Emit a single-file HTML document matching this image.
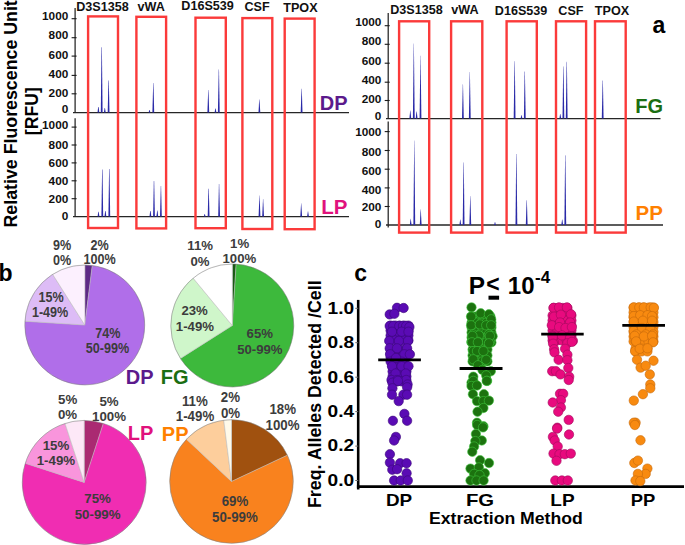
<!DOCTYPE html>
<html><head><meta charset="utf-8"><style>
html,body{margin:0;padding:0;background:#fff;}
svg{display:block;}
</style></head><body>
<svg width="685" height="545" viewBox="0 0 685 545">
<rect width="685" height="545" fill="#fff"/>
<text transform="translate(17.3,227.5) rotate(-90)" font-family="Liberation Sans, sans-serif" font-weight="bold" font-size="17.8" fill="#000">Relative Fluorescence Unit</text>
<text transform="translate(37.6,111.2) rotate(-90)" font-family="Liberation Sans, sans-serif" font-weight="bold" font-size="17.6" fill="#000" text-anchor="middle">[RFU]</text>
<line x1="75.1" y1="8" x2="75.1" y2="112.5" stroke="#1a1a1a" stroke-width="1.2"/>
<text x="68.3" y="113.2" font-family="Liberation Sans, sans-serif" font-weight="bold" font-size="11.8" fill="#111" text-anchor="end" >0</text>
<line x1="71.6" y1="93.8" x2="76.6" y2="93.8" stroke="#1a1a1a" stroke-width="1.1"/>
<text x="68.3" y="97.3" font-family="Liberation Sans, sans-serif" font-weight="bold" font-size="11.8" fill="#111" text-anchor="end" >200</text>
<line x1="71.6" y1="75.4" x2="76.6" y2="75.4" stroke="#1a1a1a" stroke-width="1.1"/>
<text x="68.3" y="77.7" font-family="Liberation Sans, sans-serif" font-weight="bold" font-size="11.8" fill="#111" text-anchor="end" >400</text>
<line x1="71.6" y1="56.1" x2="76.6" y2="56.1" stroke="#1a1a1a" stroke-width="1.1"/>
<text x="68.3" y="58.7" font-family="Liberation Sans, sans-serif" font-weight="bold" font-size="11.8" fill="#111" text-anchor="end" >600</text>
<line x1="71.6" y1="37.7" x2="76.6" y2="37.7" stroke="#1a1a1a" stroke-width="1.1"/>
<text x="68.3" y="39.4" font-family="Liberation Sans, sans-serif" font-weight="bold" font-size="11.8" fill="#111" text-anchor="end" >800</text>
<line x1="71.6" y1="18.7" x2="76.6" y2="18.7" stroke="#1a1a1a" stroke-width="1.1"/>
<text x="68.3" y="20.1" font-family="Liberation Sans, sans-serif" font-weight="bold" font-size="11.8" fill="#111" text-anchor="end" >1000</text>
<line x1="75.1" y1="118.3" x2="75.1" y2="217" stroke="#1a1a1a" stroke-width="1.2"/>
<text x="68.3" y="219.7" font-family="Liberation Sans, sans-serif" font-weight="bold" font-size="11.8" fill="#111" text-anchor="end" >0</text>
<line x1="71.6" y1="198.7" x2="76.6" y2="198.7" stroke="#1a1a1a" stroke-width="1.1"/>
<text x="68.3" y="203.1" font-family="Liberation Sans, sans-serif" font-weight="bold" font-size="11.8" fill="#111" text-anchor="end" >200</text>
<line x1="71.6" y1="180.8" x2="76.6" y2="180.8" stroke="#1a1a1a" stroke-width="1.1"/>
<text x="68.3" y="185.2" font-family="Liberation Sans, sans-serif" font-weight="bold" font-size="11.8" fill="#111" text-anchor="end" >400</text>
<line x1="71.6" y1="162.9" x2="76.6" y2="162.9" stroke="#1a1a1a" stroke-width="1.1"/>
<text x="68.3" y="167.2" font-family="Liberation Sans, sans-serif" font-weight="bold" font-size="11.8" fill="#111" text-anchor="end" >600</text>
<line x1="71.6" y1="145.0" x2="76.6" y2="145.0" stroke="#1a1a1a" stroke-width="1.1"/>
<text x="68.3" y="148.9" font-family="Liberation Sans, sans-serif" font-weight="bold" font-size="11.8" fill="#111" text-anchor="end" >800</text>
<line x1="71.6" y1="127.1" x2="76.6" y2="127.1" stroke="#1a1a1a" stroke-width="1.1"/>
<text x="68.3" y="129.3" font-family="Liberation Sans, sans-serif" font-weight="bold" font-size="11.8" fill="#111" text-anchor="end" >1000</text>
<line x1="73" y1="112.6" x2="349" y2="112.6" stroke="#262626" stroke-width="1.4"/>
<line x1="73" y1="216.6" x2="349" y2="216.6" stroke="#262626" stroke-width="1.4"/>
<polygon points="97.5,112.6 98.2,107.0 98.6,107.0 99.3,112.6" fill="#2a2aa8"/>
<polygon points="100.8,112.6 101.5,47.3 101.9,47.3 102.6,112.6" fill="#2a2aa8"/>
<polygon points="103.9,112.6 104.6,108.0 105.0,108.0 105.7,112.6" fill="#2a2aa8"/>
<polygon points="107.7,112.6 108.4,80.5 108.8,80.5 109.5,112.6" fill="#2a2aa8"/>
<polygon points="148.6,112.6 149.3,110.0 149.7,110.0 150.4,112.6" fill="#2a2aa8"/>
<polygon points="152.4,112.6 153.2,83.0 153.5,83.0 154.2,112.6" fill="#2a2aa8"/>
<polygon points="207.4,112.6 208.2,90.0 208.5,90.0 209.2,112.6" fill="#2a2aa8"/>
<polygon points="214.6,112.6 215.3,108.6 215.7,108.6 216.4,112.6" fill="#2a2aa8"/>
<polygon points="217.9,112.6 218.7,69.5 219.0,69.5 219.7,112.6" fill="#2a2aa8"/>
<polygon points="258.5,112.6 259.2,99.6 259.5,99.6 260.3,112.6" fill="#2a2aa8"/>
<polygon points="300.7,112.6 301.5,88.7 301.8,88.7 302.5,112.6" fill="#2a2aa8"/>
<polygon points="97.6,216.6 98.3,211.8 98.7,211.8 99.4,216.6" fill="#2a2aa8"/>
<polygon points="101.4,216.6 102.1,169.4 102.5,169.4 103.2,216.6" fill="#2a2aa8"/>
<polygon points="104.5,216.6 105.2,211.0 105.6,211.0 106.3,216.6" fill="#2a2aa8"/>
<polygon points="108.4,216.6 109.1,168.9 109.5,168.9 110.2,216.6" fill="#2a2aa8"/>
<polygon points="149.5,216.6 150.2,211.0 150.6,211.0 151.3,216.6" fill="#2a2aa8"/>
<polygon points="153.1,216.6 153.8,181.0 154.2,181.0 154.9,216.6" fill="#2a2aa8"/>
<polygon points="156.4,216.6 157.2,210.5 157.5,210.5 158.2,216.6" fill="#2a2aa8"/>
<polygon points="160.0,216.6 160.8,186.1 161.1,186.1 161.8,216.6" fill="#2a2aa8"/>
<polygon points="203.8,216.6 204.5,214.0 204.8,214.0 205.6,216.6" fill="#2a2aa8"/>
<polygon points="207.7,216.6 208.4,188.7 208.8,188.7 209.5,216.6" fill="#2a2aa8"/>
<polygon points="218.2,216.6 218.9,184.0 219.2,184.0 220.0,216.6" fill="#2a2aa8"/>
<polygon points="258.6,216.6 259.4,195.6 259.6,195.6 260.4,216.6" fill="#2a2aa8"/>
<polygon points="262.2,216.6 263.0,199.0 263.2,199.0 264.0,216.6" fill="#2a2aa8"/>
<polygon points="300.3,216.6 301.1,203.2 301.3,203.2 302.1,216.6" fill="#2a2aa8"/>
<polygon points="307.1,216.6 307.9,211.3 308.1,211.3 308.9,216.6" fill="#2a2aa8"/>
<text x="102.5" y="11" font-family="Liberation Sans, sans-serif" font-weight="bold" font-size="12.6" fill="#111" text-anchor="middle" >D3S1358</text>
<text x="151.2" y="11" font-family="Liberation Sans, sans-serif" font-weight="bold" font-size="12.6" fill="#111" text-anchor="middle" >vWA</text>
<text x="207.6" y="10.3" font-family="Liberation Sans, sans-serif" font-weight="bold" font-size="12.6" fill="#111" text-anchor="middle" >D16S539</text>
<text x="257" y="11" font-family="Liberation Sans, sans-serif" font-weight="bold" font-size="12.6" fill="#111" text-anchor="middle" >CSF</text>
<text x="300.4" y="12" font-family="Liberation Sans, sans-serif" font-weight="bold" font-size="12.6" fill="#111" text-anchor="middle" >TPOX</text>
<text x="319.8" y="109.7" font-family="Liberation Sans, sans-serif" font-weight="bold" font-size="20" fill="#5b1a8c" text-anchor="start" >DP</text>
<text x="321.3" y="214.1" font-family="Liberation Sans, sans-serif" font-weight="bold" font-size="20.5" fill="#e0127c" text-anchor="start" >LP</text>
<line x1="388.2" y1="13" x2="388.2" y2="118.4" stroke="#1a1a1a" stroke-width="1.2"/>
<text x="381.4" y="120.3" font-family="Liberation Sans, sans-serif" font-weight="bold" font-size="11.8" fill="#111" text-anchor="end" >0</text>
<line x1="384.7" y1="100.5" x2="389.7" y2="100.5" stroke="#1a1a1a" stroke-width="1.1"/>
<text x="381.4" y="102.7" font-family="Liberation Sans, sans-serif" font-weight="bold" font-size="11.8" fill="#111" text-anchor="end" >200</text>
<line x1="384.7" y1="82.2" x2="389.7" y2="82.2" stroke="#1a1a1a" stroke-width="1.1"/>
<text x="381.4" y="83.7" font-family="Liberation Sans, sans-serif" font-weight="bold" font-size="11.8" fill="#111" text-anchor="end" >400</text>
<line x1="384.7" y1="63.2" x2="389.7" y2="63.2" stroke="#1a1a1a" stroke-width="1.1"/>
<text x="381.4" y="64.5" font-family="Liberation Sans, sans-serif" font-weight="bold" font-size="11.8" fill="#111" text-anchor="end" >600</text>
<line x1="384.7" y1="44.3" x2="389.7" y2="44.3" stroke="#1a1a1a" stroke-width="1.1"/>
<text x="381.4" y="45.0" font-family="Liberation Sans, sans-serif" font-weight="bold" font-size="11.8" fill="#111" text-anchor="end" >800</text>
<line x1="384.7" y1="25.7" x2="389.7" y2="25.7" stroke="#1a1a1a" stroke-width="1.1"/>
<text x="381.4" y="26.0" font-family="Liberation Sans, sans-serif" font-weight="bold" font-size="11.8" fill="#111" text-anchor="end" >1000</text>
<line x1="388.2" y1="121.6" x2="388.2" y2="227.6" stroke="#1a1a1a" stroke-width="1.2"/>
<text x="381.4" y="227.6" font-family="Liberation Sans, sans-serif" font-weight="bold" font-size="11.8" fill="#111" text-anchor="end" >0</text>
<line x1="384.7" y1="206.5" x2="389.7" y2="206.5" stroke="#1a1a1a" stroke-width="1.1"/>
<text x="381.4" y="210.5" font-family="Liberation Sans, sans-serif" font-weight="bold" font-size="11.8" fill="#111" text-anchor="end" >200</text>
<line x1="384.7" y1="187.9" x2="389.7" y2="187.9" stroke="#1a1a1a" stroke-width="1.1"/>
<text x="381.4" y="193.7" font-family="Liberation Sans, sans-serif" font-weight="bold" font-size="11.8" fill="#111" text-anchor="end" >400</text>
<line x1="384.7" y1="169.2" x2="389.7" y2="169.2" stroke="#1a1a1a" stroke-width="1.1"/>
<text x="381.4" y="174.6" font-family="Liberation Sans, sans-serif" font-weight="bold" font-size="11.8" fill="#111" text-anchor="end" >600</text>
<line x1="384.7" y1="150.5" x2="389.7" y2="150.5" stroke="#1a1a1a" stroke-width="1.1"/>
<text x="381.4" y="155.8" font-family="Liberation Sans, sans-serif" font-weight="bold" font-size="11.8" fill="#111" text-anchor="end" >800</text>
<line x1="384.7" y1="131.6" x2="389.7" y2="131.6" stroke="#1a1a1a" stroke-width="1.1"/>
<text x="381.4" y="135.9" font-family="Liberation Sans, sans-serif" font-weight="bold" font-size="11.8" fill="#111" text-anchor="end" >1000</text>
<line x1="386" y1="118.6" x2="660.5" y2="118.6" stroke="#262626" stroke-width="1.4"/>
<line x1="386" y1="225" x2="663" y2="225" stroke="#262626" stroke-width="1.4"/>
<polygon points="409.4,118.6 410.2,110.6 410.4,110.6 411.2,118.6" fill="#2a2aa8"/>
<polygon points="412.9,118.6 413.7,43.4 413.9,43.4 414.7,118.6" fill="#2a2aa8"/>
<polygon points="415.7,118.6 416.5,111.6 416.8,111.6 417.5,118.6" fill="#2a2aa8"/>
<polygon points="419.6,118.6 420.4,55.7 420.6,55.7 421.4,118.6" fill="#2a2aa8"/>
<polygon points="462.0,118.6 462.8,84.3 463.0,84.3 463.8,118.6" fill="#2a2aa8"/>
<polygon points="468.9,118.6 469.7,72.0 469.9,72.0 470.7,118.6" fill="#2a2aa8"/>
<polygon points="513.7,118.6 514.5,61.3 514.8,61.3 515.5,118.6" fill="#2a2aa8"/>
<polygon points="520.6,118.6 521.4,115.0 521.6,115.0 522.4,118.6" fill="#2a2aa8"/>
<polygon points="523.9,118.6 524.6,71.5 524.9,71.5 525.7,118.6" fill="#2a2aa8"/>
<polygon points="559.4,118.6 560.1,114.0 560.4,114.0 561.2,118.6" fill="#2a2aa8"/>
<polygon points="562.5,118.6 563.2,66.4 563.5,66.4 564.3,118.6" fill="#2a2aa8"/>
<polygon points="565.8,118.6 566.6,61.8 566.9,61.8 567.6,118.6" fill="#2a2aa8"/>
<polygon points="601.8,118.6 602.6,80.5 602.9,80.5 603.6,118.6" fill="#2a2aa8"/>
<polygon points="409.8,225 410.6,218.8 410.8,218.8 411.6,225" fill="#2a2aa8"/>
<polygon points="413.4,225 414.2,140.6 414.4,140.6 415.2,225" fill="#2a2aa8"/>
<polygon points="419.8,225 420.6,209.3 420.8,209.3 421.6,225" fill="#2a2aa8"/>
<polygon points="459.4,225 460.2,219.5 460.4,219.5 461.2,225" fill="#2a2aa8"/>
<polygon points="462.7,225 463.5,162.5 463.8,162.5 464.5,225" fill="#2a2aa8"/>
<polygon points="469.4,225 470.2,195.9 470.4,195.9 471.2,225" fill="#2a2aa8"/>
<polygon points="494.1,225 494.9,222.0 495.1,222.0 495.9,225" fill="#2a2aa8"/>
<polygon points="515.5,225 516.2,154.0 516.5,154.0 517.3,225" fill="#2a2aa8"/>
<polygon points="525.8,225 526.6,200.3 526.9,200.3 527.6,225" fill="#2a2aa8"/>
<polygon points="561.3,225 562.1,219.5 562.4,219.5 563.1,225" fill="#2a2aa8"/>
<polygon points="564.4,225 565.1,155.3 565.4,155.3 566.2,225" fill="#2a2aa8"/>
<rect x="88.1" y="16.4" width="29.900000000000006" height="211.6" fill="none" stroke="#fb3a3a" stroke-width="2.4"/>
<rect x="136.4" y="16.8" width="29.69999999999999" height="211.6" fill="none" stroke="#fb3a3a" stroke-width="2.4"/>
<rect x="195.5" y="17.7" width="30.30000000000001" height="210.5" fill="none" stroke="#fb3a3a" stroke-width="2.4"/>
<rect x="242.4" y="18.1" width="29.900000000000006" height="210.9" fill="none" stroke="#fb3a3a" stroke-width="2.4"/>
<rect x="284.7" y="18.6" width="29.900000000000034" height="210.6" fill="none" stroke="#fb3a3a" stroke-width="2.4"/>
<rect x="399.1" y="21.3" width="30.099999999999966" height="211.29999999999998" fill="none" stroke="#fb3a3a" stroke-width="2.4"/>
<rect x="451.1" y="21.3" width="31.19999999999999" height="211.29999999999998" fill="none" stroke="#fb3a3a" stroke-width="2.4"/>
<rect x="506.6" y="21.3" width="30.199999999999932" height="211.29999999999998" fill="none" stroke="#fb3a3a" stroke-width="2.4"/>
<rect x="556" y="21.3" width="30.100000000000023" height="211.29999999999998" fill="none" stroke="#fb3a3a" stroke-width="2.4"/>
<rect x="595" y="21.3" width="30.700000000000045" height="211.29999999999998" fill="none" stroke="#fb3a3a" stroke-width="2.4"/>
<text x="416.5" y="14.4" font-family="Liberation Sans, sans-serif" font-weight="bold" font-size="12.6" fill="#111" text-anchor="middle" >D3S1358</text>
<text x="464.9" y="14.4" font-family="Liberation Sans, sans-serif" font-weight="bold" font-size="12.6" fill="#111" text-anchor="middle" >vWA</text>
<text x="521.1" y="14.8" font-family="Liberation Sans, sans-serif" font-weight="bold" font-size="12.6" fill="#111" text-anchor="middle" >D16S539</text>
<text x="570.9" y="14.8" font-family="Liberation Sans, sans-serif" font-weight="bold" font-size="12.6" fill="#111" text-anchor="middle" >CSF</text>
<text x="612" y="14.8" font-family="Liberation Sans, sans-serif" font-weight="bold" font-size="12.6" fill="#111" text-anchor="middle" >TPOX</text>
<text x="652.5" y="32.8" font-family="Liberation Sans, sans-serif" font-weight="bold" font-size="23" fill="#000" text-anchor="start" >a</text>
<text x="635.2" y="113" font-family="Liberation Sans, sans-serif" font-weight="bold" font-size="20" fill="#1b6e12" text-anchor="start" >FG</text>
<text x="635.5" y="220.2" font-family="Liberation Sans, sans-serif" font-weight="bold" font-size="20.5" fill="#ff8000" text-anchor="start" >PP</text>
<path d="M84.8,325 L84.80,265.00 A60,60 0 0 1 92.32,265.47 Z" fill="#5e2a86" stroke="#b8b8b8" stroke-width="0.5"/>
<path d="M84.8,325 L92.32,265.47 A60,60 0 1 1 24.92,321.23 Z" fill="#b06ee9" stroke="#b8b8b8" stroke-width="0.5"/>
<path d="M84.8,325 L24.92,321.23 A60,60 0 0 1 52.65,274.34 Z" fill="#ddbcf6" stroke="#b8b8b8" stroke-width="0.5"/>
<path d="M84.8,325 L52.65,274.34 A60,60 0 0 1 84.80,265.00 Z" fill="#fcf0fe" stroke="#b8b8b8" stroke-width="0.5"/>
<circle cx="84.8" cy="325" r="60" fill="none" stroke="#000" stroke-opacity="0.22" stroke-width="0.8"/>
<path d="M232.3,325.5 L232.30,264.00 A61.5,61.5 0 0 1 236.16,264.12 Z" fill="#1b5a15" stroke="#b8b8b8" stroke-width="0.5"/>
<path d="M232.3,325.5 L236.16,264.12 A61.5,61.5 0 1 1 180.37,358.45 Z" fill="#3db93c" stroke="#b8b8b8" stroke-width="0.5"/>
<path d="M232.3,325.5 L180.37,358.45 A61.5,61.5 0 0 1 193.10,278.11 Z" fill="#cff6ca" stroke="#b8b8b8" stroke-width="0.5"/>
<path d="M232.3,325.5 L193.10,278.11 A61.5,61.5 0 0 1 232.30,264.00 Z" fill="#ffffff" stroke="#b8b8b8" stroke-width="0.5"/>
<circle cx="232.3" cy="325.5" r="61.5" fill="none" stroke="#000" stroke-opacity="0.22" stroke-width="0.8"/>
<path d="M84.2,482.4 L84.20,420.40 A62,62 0 0 1 103.36,423.43 Z" fill="#aa2a72" stroke="#b8b8b8" stroke-width="0.5"/>
<path d="M84.2,482.4 L103.36,423.43 A62,62 0 1 1 25.23,463.24 Z" fill="#f02db2" stroke="#b8b8b8" stroke-width="0.5"/>
<path d="M84.2,482.4 L25.23,463.24 A62,62 0 0 1 65.04,423.43 Z" fill="#f995dc" stroke="#b8b8b8" stroke-width="0.5"/>
<path d="M84.2,482.4 L65.04,423.43 A62,62 0 0 1 84.20,420.40 Z" fill="#fde8f7" stroke="#b8b8b8" stroke-width="0.5"/>
<circle cx="84.2" cy="482.4" r="62" fill="none" stroke="#000" stroke-opacity="0.22" stroke-width="0.8"/>
<path d="M231.5,481.5 L231.50,419.70 A61.8,61.8 0 0 1 287.42,455.19 Z" fill="#a0510f" stroke="#b8b8b8" stroke-width="0.5"/>
<path d="M231.5,481.5 L287.42,455.19 A61.8,61.8 0 1 1 186.45,439.19 Z" fill="#f9821e" stroke="#b8b8b8" stroke-width="0.5"/>
<path d="M231.5,481.5 L186.45,439.19 A61.8,61.8 0 0 1 223.75,420.19 Z" fill="#fdce9c" stroke="#b8b8b8" stroke-width="0.5"/>
<path d="M231.5,481.5 L223.75,420.19 A61.8,61.8 0 0 1 231.50,419.70 Z" fill="#fffaea" stroke="#b8b8b8" stroke-width="0.5"/>
<circle cx="231.5" cy="481.5" r="61.8" fill="none" stroke="#000" stroke-opacity="0.22" stroke-width="0.8"/>
<text transform="translate(62.1,250.1) scale(1,1.1)" font-family="Liberation Sans, sans-serif" font-weight="bold" font-size="12.6" fill="#3c3c3c" text-anchor="middle">9%</text>
<text transform="translate(62.1,264.9) scale(1,1.1)" font-family="Liberation Sans, sans-serif" font-weight="bold" font-size="12.6" fill="#3c3c3c" text-anchor="middle">0%</text>
<text transform="translate(99.6,250.1) scale(1,1.1)" font-family="Liberation Sans, sans-serif" font-weight="bold" font-size="12.6" fill="#3c3c3c" text-anchor="middle">2%</text>
<text transform="translate(99.6,263.9) scale(1,1.1)" font-family="Liberation Sans, sans-serif" font-weight="bold" font-size="12.6" fill="#3c3c3c" text-anchor="middle">100%</text>
<text transform="translate(51,302.4) scale(1,1.1)" font-family="Liberation Sans, sans-serif" font-weight="bold" font-size="12.6" fill="#3c3c3c" text-anchor="middle">15%</text>
<text transform="translate(50.1,317.0) scale(1,1.1)" font-family="Liberation Sans, sans-serif" font-weight="bold" font-size="12.6" fill="#3c3c3c" text-anchor="middle">1-49%</text>
<text transform="translate(107.75,337.9) scale(1,1.1)" font-family="Liberation Sans, sans-serif" font-weight="bold" font-size="12.6" fill="#3c3c3c" text-anchor="middle">74%</text>
<text transform="translate(107.5,352.9) scale(1,1.1)" font-family="Liberation Sans, sans-serif" font-weight="bold" font-size="12.6" fill="#3c3c3c" text-anchor="middle">50-99%</text>
<text transform="translate(200.1,250.3) scale(1,1.03)" font-family="Liberation Sans, sans-serif" font-weight="bold" font-size="13.2" fill="#3c3c3c" text-anchor="middle">11%</text>
<text transform="translate(200,265.8) scale(1,1.03)" font-family="Liberation Sans, sans-serif" font-weight="bold" font-size="13.2" fill="#3c3c3c" text-anchor="middle">0%</text>
<text transform="translate(239.6,247.8) scale(1,1.03)" font-family="Liberation Sans, sans-serif" font-weight="bold" font-size="13.2" fill="#3c3c3c" text-anchor="middle">1%</text>
<text transform="translate(239.4,263.3) scale(1,1.03)" font-family="Liberation Sans, sans-serif" font-weight="bold" font-size="13.2" fill="#3c3c3c" text-anchor="middle">100%</text>
<text transform="translate(194.6,315.2) scale(1,1.03)" font-family="Liberation Sans, sans-serif" font-weight="bold" font-size="13.2" fill="#3c3c3c" text-anchor="middle">23%</text>
<text transform="translate(194.9,331.0) scale(1,1.03)" font-family="Liberation Sans, sans-serif" font-weight="bold" font-size="13.2" fill="#3c3c3c" text-anchor="middle">1-49%</text>
<text transform="translate(259.75,337.9) scale(1,1.03)" font-family="Liberation Sans, sans-serif" font-weight="bold" font-size="13.2" fill="#3c3c3c" text-anchor="middle">65%</text>
<text transform="translate(259.85,353.6) scale(1,1.03)" font-family="Liberation Sans, sans-serif" font-weight="bold" font-size="13.2" fill="#3c3c3c" text-anchor="middle">50-99%</text>
<text transform="translate(67.6,403.8) scale(1,1.0)" font-family="Liberation Sans, sans-serif" font-weight="bold" font-size="13.3" fill="#3c3c3c" text-anchor="middle">5%</text>
<text transform="translate(67.5,419.3) scale(1,1.0)" font-family="Liberation Sans, sans-serif" font-weight="bold" font-size="13.3" fill="#3c3c3c" text-anchor="middle">0%</text>
<text transform="translate(109,405.5) scale(1,1.0)" font-family="Liberation Sans, sans-serif" font-weight="bold" font-size="13.3" fill="#3c3c3c" text-anchor="middle">5%</text>
<text transform="translate(109,420.9) scale(1,1.0)" font-family="Liberation Sans, sans-serif" font-weight="bold" font-size="13.3" fill="#3c3c3c" text-anchor="middle">100%</text>
<text transform="translate(55.95,449.5) scale(1,1.0)" font-family="Liberation Sans, sans-serif" font-weight="bold" font-size="13.3" fill="#3c3c3c" text-anchor="middle">15%</text>
<text transform="translate(55.9,465.1) scale(1,1.0)" font-family="Liberation Sans, sans-serif" font-weight="bold" font-size="13.3" fill="#3c3c3c" text-anchor="middle">1-49%</text>
<text transform="translate(97.6,503.2) scale(1,1.0)" font-family="Liberation Sans, sans-serif" font-weight="bold" font-size="13.3" fill="#3c3c3c" text-anchor="middle">75%</text>
<text transform="translate(97.65,519.3) scale(1,1.0)" font-family="Liberation Sans, sans-serif" font-weight="bold" font-size="13.3" fill="#3c3c3c" text-anchor="middle">50-99%</text>
<text transform="translate(194.9,405.9) scale(1,1.05)" font-family="Liberation Sans, sans-serif" font-weight="bold" font-size="13.3" fill="#3c3c3c" text-anchor="middle">11%</text>
<text transform="translate(195,421.2) scale(1,1.05)" font-family="Liberation Sans, sans-serif" font-weight="bold" font-size="13.3" fill="#3c3c3c" text-anchor="middle">1-49%</text>
<text transform="translate(230.4,402.4) scale(1,1.05)" font-family="Liberation Sans, sans-serif" font-weight="bold" font-size="13.3" fill="#3c3c3c" text-anchor="middle">2%</text>
<text transform="translate(230.5,418.0) scale(1,1.05)" font-family="Liberation Sans, sans-serif" font-weight="bold" font-size="13.3" fill="#3c3c3c" text-anchor="middle">0%</text>
<text transform="translate(282.7,414.4) scale(1,1.05)" font-family="Liberation Sans, sans-serif" font-weight="bold" font-size="13.3" fill="#3c3c3c" text-anchor="middle">18%</text>
<text transform="translate(282.5,430.3) scale(1,1.05)" font-family="Liberation Sans, sans-serif" font-weight="bold" font-size="13.3" fill="#3c3c3c" text-anchor="middle">100%</text>
<text transform="translate(234.95,506.4) scale(1,1.05)" font-family="Liberation Sans, sans-serif" font-weight="bold" font-size="13.3" fill="#3c3c3c" text-anchor="middle">69%</text>
<text transform="translate(234.9,522.4) scale(1,1.05)" font-family="Liberation Sans, sans-serif" font-weight="bold" font-size="13.3" fill="#3c3c3c" text-anchor="middle">50-99%</text>
<text x="-1.5" y="280.9" font-family="Liberation Sans, sans-serif" font-weight="bold" font-size="23" fill="#000" text-anchor="start" >b</text>
<text x="125.8" y="383.9" font-family="Liberation Sans, sans-serif" font-weight="bold" font-size="20" fill="#5b1a8c" text-anchor="start" >DP</text>
<text x="160.8" y="383.6" font-family="Liberation Sans, sans-serif" font-weight="bold" font-size="20" fill="#1b6e12" text-anchor="start" >FG</text>
<text x="127.7" y="439.8" font-family="Liberation Sans, sans-serif" font-weight="bold" font-size="20" fill="#e0127c" text-anchor="start" >LP</text>
<text x="161.8" y="440.6" font-family="Liberation Sans, sans-serif" font-weight="bold" font-size="20" fill="#ff8000" text-anchor="start" >PP</text>
<text x="354.2" y="280.6" font-family="Liberation Sans, sans-serif" font-weight="bold" font-size="23" fill="#000" text-anchor="start" >c</text>
<line x1="358.2" y1="299.9" x2="358.2" y2="489.5" stroke="#000" stroke-width="2.6"/>
<line x1="356.9" y1="486.6" x2="684" y2="486.6" stroke="#000" stroke-width="2.6"/>
<line x1="355.3" y1="480.5" x2="358.2" y2="480.5" stroke="#666" stroke-width="1"/>
<text x="354.2" y="485.7" font-family="Liberation Sans, sans-serif" font-weight="bold" font-size="16.6" fill="#000" text-anchor="end" textLength="26.6" lengthAdjust="spacingAndGlyphs" >0.0</text>
<line x1="355.3" y1="446.1" x2="358.2" y2="446.1" stroke="#666" stroke-width="1"/>
<text x="354.2" y="451.3" font-family="Liberation Sans, sans-serif" font-weight="bold" font-size="16.6" fill="#000" text-anchor="end" textLength="26.6" lengthAdjust="spacingAndGlyphs" >0.2</text>
<line x1="355.3" y1="411.6" x2="358.2" y2="411.6" stroke="#666" stroke-width="1"/>
<text x="354.2" y="416.9" font-family="Liberation Sans, sans-serif" font-weight="bold" font-size="16.6" fill="#000" text-anchor="end" textLength="26.6" lengthAdjust="spacingAndGlyphs" >0.4</text>
<line x1="355.3" y1="377.2" x2="358.2" y2="377.2" stroke="#666" stroke-width="1"/>
<text x="354.2" y="382.5" font-family="Liberation Sans, sans-serif" font-weight="bold" font-size="16.6" fill="#000" text-anchor="end" textLength="26.6" lengthAdjust="spacingAndGlyphs" >0.6</text>
<line x1="355.3" y1="342.7" x2="358.2" y2="342.7" stroke="#666" stroke-width="1"/>
<text x="354.2" y="348.1" font-family="Liberation Sans, sans-serif" font-weight="bold" font-size="16.6" fill="#000" text-anchor="end" textLength="26.6" lengthAdjust="spacingAndGlyphs" >0.8</text>
<line x1="355.3" y1="308.3" x2="358.2" y2="308.3" stroke="#666" stroke-width="1"/>
<text x="354.2" y="313.7" font-family="Liberation Sans, sans-serif" font-weight="bold" font-size="16.6" fill="#000" text-anchor="end" textLength="26.6" lengthAdjust="spacingAndGlyphs" >1.0</text>
<text transform="translate(320.9,508) rotate(-90)" font-family="Liberation Sans, sans-serif" font-weight="bold" font-size="17.8" fill="#000">Freq. Alleles Detected /Cell</text>
<text x="399" y="505.7" font-family="Liberation Sans, sans-serif" font-weight="bold" font-size="17" fill="#000" text-anchor="middle" textLength="26.2" lengthAdjust="spacingAndGlyphs" >DP</text>
<text x="480" y="505.7" font-family="Liberation Sans, sans-serif" font-weight="bold" font-size="17" fill="#000" text-anchor="middle" textLength="28.2" lengthAdjust="spacingAndGlyphs" >FG</text>
<text x="562.5" y="505.5" font-family="Liberation Sans, sans-serif" font-weight="bold" font-size="17" fill="#000" text-anchor="middle" textLength="24.3" lengthAdjust="spacingAndGlyphs" >LP</text>
<text x="643.1" y="505.5" font-family="Liberation Sans, sans-serif" font-weight="bold" font-size="17" fill="#000" text-anchor="middle" textLength="24.5" lengthAdjust="spacingAndGlyphs" >PP</text>
<text x="429" y="523.7" font-family="Liberation Sans, sans-serif" font-weight="bold" font-size="16" fill="#000" text-anchor="start" textLength="153.8" lengthAdjust="spacingAndGlyphs" >Extraction Method</text>
<text x="468.8" y="293.5" font-family="Liberation Sans, sans-serif" font-weight="bold" font-size="24.4" fill="#000" text-anchor="start" >P</text>
<text x="493" y="292.4" font-family="Liberation Sans, sans-serif" font-weight="bold" font-size="23" fill="#000" text-anchor="middle" >&lt;</text>
<rect x="488.5" y="295.7" width="10.6" height="4" fill="#000"/>
<text x="507.8" y="293.5" font-family="Liberation Sans, sans-serif" font-weight="bold" font-size="24" fill="#000" text-anchor="start" >10</text>
<text x="535" y="283.2" font-family="Liberation Sans, sans-serif" font-weight="bold" font-size="17" fill="#000" text-anchor="start" >-4</text>
<circle cx="390.6" cy="325.6" r="4.7" fill="#5a0bb4" stroke="#3a0878" stroke-width="0.6"/>
<circle cx="395.1" cy="325.6" r="4.7" fill="#5a0bb4" stroke="#3a0878" stroke-width="0.6"/>
<circle cx="399.5" cy="325.6" r="4.7" fill="#5a0bb4" stroke="#3a0878" stroke-width="0.6"/>
<circle cx="403.9" cy="325.6" r="4.7" fill="#5a0bb4" stroke="#3a0878" stroke-width="0.6"/>
<circle cx="408.4" cy="325.6" r="4.7" fill="#5a0bb4" stroke="#3a0878" stroke-width="0.6"/>
<circle cx="390.6" cy="330.5" r="4.7" fill="#5a0bb4" stroke="#3a0878" stroke-width="0.6"/>
<circle cx="395.1" cy="330.5" r="4.7" fill="#5a0bb4" stroke="#3a0878" stroke-width="0.6"/>
<circle cx="399.5" cy="330.5" r="4.7" fill="#5a0bb4" stroke="#3a0878" stroke-width="0.6"/>
<circle cx="403.9" cy="330.5" r="4.7" fill="#5a0bb4" stroke="#3a0878" stroke-width="0.6"/>
<circle cx="408.4" cy="330.5" r="4.7" fill="#5a0bb4" stroke="#3a0878" stroke-width="0.6"/>
<circle cx="390.6" cy="335.5" r="4.7" fill="#5a0bb4" stroke="#3a0878" stroke-width="0.6"/>
<circle cx="395.1" cy="335.5" r="4.7" fill="#5a0bb4" stroke="#3a0878" stroke-width="0.6"/>
<circle cx="399.5" cy="335.5" r="4.7" fill="#5a0bb4" stroke="#3a0878" stroke-width="0.6"/>
<circle cx="403.9" cy="335.5" r="4.7" fill="#5a0bb4" stroke="#3a0878" stroke-width="0.6"/>
<circle cx="408.4" cy="335.5" r="4.7" fill="#5a0bb4" stroke="#3a0878" stroke-width="0.6"/>
<circle cx="390.6" cy="340.4" r="4.7" fill="#5a0bb4" stroke="#3a0878" stroke-width="0.6"/>
<circle cx="395.1" cy="340.4" r="4.7" fill="#5a0bb4" stroke="#3a0878" stroke-width="0.6"/>
<circle cx="399.5" cy="340.4" r="4.7" fill="#5a0bb4" stroke="#3a0878" stroke-width="0.6"/>
<circle cx="403.9" cy="340.4" r="4.7" fill="#5a0bb4" stroke="#3a0878" stroke-width="0.6"/>
<circle cx="408.4" cy="340.4" r="4.7" fill="#5a0bb4" stroke="#3a0878" stroke-width="0.6"/>
<circle cx="390.6" cy="349.6" r="4.7" fill="#5a0bb4" stroke="#3a0878" stroke-width="0.6"/>
<circle cx="395.9" cy="349.6" r="4.7" fill="#5a0bb4" stroke="#3a0878" stroke-width="0.6"/>
<circle cx="401.1" cy="349.6" r="4.7" fill="#5a0bb4" stroke="#3a0878" stroke-width="0.6"/>
<circle cx="406.4" cy="349.6" r="4.7" fill="#5a0bb4" stroke="#3a0878" stroke-width="0.6"/>
<circle cx="390.6" cy="353.5" r="4.7" fill="#5a0bb4" stroke="#3a0878" stroke-width="0.6"/>
<circle cx="395.9" cy="353.5" r="4.7" fill="#5a0bb4" stroke="#3a0878" stroke-width="0.6"/>
<circle cx="401.1" cy="353.5" r="4.7" fill="#5a0bb4" stroke="#3a0878" stroke-width="0.6"/>
<circle cx="406.4" cy="353.5" r="4.7" fill="#5a0bb4" stroke="#3a0878" stroke-width="0.6"/>
<circle cx="390.6" cy="357.4" r="4.7" fill="#5a0bb4" stroke="#3a0878" stroke-width="0.6"/>
<circle cx="395.9" cy="357.4" r="4.7" fill="#5a0bb4" stroke="#3a0878" stroke-width="0.6"/>
<circle cx="401.1" cy="357.4" r="4.7" fill="#5a0bb4" stroke="#3a0878" stroke-width="0.6"/>
<circle cx="406.4" cy="357.4" r="4.7" fill="#5a0bb4" stroke="#3a0878" stroke-width="0.6"/>
<circle cx="392.6" cy="366.6" r="4.7" fill="#5a0bb4" stroke="#3a0878" stroke-width="0.6"/>
<circle cx="397.2" cy="366.6" r="4.7" fill="#5a0bb4" stroke="#3a0878" stroke-width="0.6"/>
<circle cx="401.8" cy="366.6" r="4.7" fill="#5a0bb4" stroke="#3a0878" stroke-width="0.6"/>
<circle cx="406.4" cy="366.6" r="4.7" fill="#5a0bb4" stroke="#3a0878" stroke-width="0.6"/>
<circle cx="392.6" cy="371.5" r="4.7" fill="#5a0bb4" stroke="#3a0878" stroke-width="0.6"/>
<circle cx="397.2" cy="371.5" r="4.7" fill="#5a0bb4" stroke="#3a0878" stroke-width="0.6"/>
<circle cx="401.8" cy="371.5" r="4.7" fill="#5a0bb4" stroke="#3a0878" stroke-width="0.6"/>
<circle cx="406.4" cy="371.5" r="4.7" fill="#5a0bb4" stroke="#3a0878" stroke-width="0.6"/>
<circle cx="392.6" cy="376.5" r="4.7" fill="#5a0bb4" stroke="#3a0878" stroke-width="0.6"/>
<circle cx="397.2" cy="376.5" r="4.7" fill="#5a0bb4" stroke="#3a0878" stroke-width="0.6"/>
<circle cx="401.8" cy="376.5" r="4.7" fill="#5a0bb4" stroke="#3a0878" stroke-width="0.6"/>
<circle cx="406.4" cy="376.5" r="4.7" fill="#5a0bb4" stroke="#3a0878" stroke-width="0.6"/>
<circle cx="392.6" cy="381.4" r="4.7" fill="#5a0bb4" stroke="#3a0878" stroke-width="0.6"/>
<circle cx="397.2" cy="381.4" r="4.7" fill="#5a0bb4" stroke="#3a0878" stroke-width="0.6"/>
<circle cx="401.8" cy="381.4" r="4.7" fill="#5a0bb4" stroke="#3a0878" stroke-width="0.6"/>
<circle cx="406.4" cy="381.4" r="4.7" fill="#5a0bb4" stroke="#3a0878" stroke-width="0.6"/>
<circle cx="471.6" cy="316.5" r="4.7" fill="#1c720f" stroke="#3ec43c" stroke-width="0.6"/>
<circle cx="476.3" cy="316.5" r="4.7" fill="#1c720f" stroke="#3ec43c" stroke-width="0.6"/>
<circle cx="481.0" cy="316.5" r="4.7" fill="#1c720f" stroke="#3ec43c" stroke-width="0.6"/>
<circle cx="485.7" cy="316.5" r="4.7" fill="#1c720f" stroke="#3ec43c" stroke-width="0.6"/>
<circle cx="490.4" cy="316.5" r="4.7" fill="#1c720f" stroke="#3ec43c" stroke-width="0.6"/>
<circle cx="471.6" cy="322.6" r="4.7" fill="#1c720f" stroke="#3ec43c" stroke-width="0.6"/>
<circle cx="476.6" cy="322.6" r="4.7" fill="#1c720f" stroke="#3ec43c" stroke-width="0.6"/>
<circle cx="481.5" cy="322.6" r="4.7" fill="#1c720f" stroke="#3ec43c" stroke-width="0.6"/>
<circle cx="486.4" cy="322.6" r="4.7" fill="#1c720f" stroke="#3ec43c" stroke-width="0.6"/>
<circle cx="491.4" cy="322.6" r="4.7" fill="#1c720f" stroke="#3ec43c" stroke-width="0.6"/>
<circle cx="471.6" cy="327.6" r="4.7" fill="#1c720f" stroke="#3ec43c" stroke-width="0.6"/>
<circle cx="476.6" cy="327.6" r="4.7" fill="#1c720f" stroke="#3ec43c" stroke-width="0.6"/>
<circle cx="481.5" cy="327.6" r="4.7" fill="#1c720f" stroke="#3ec43c" stroke-width="0.6"/>
<circle cx="486.4" cy="327.6" r="4.7" fill="#1c720f" stroke="#3ec43c" stroke-width="0.6"/>
<circle cx="491.4" cy="327.6" r="4.7" fill="#1c720f" stroke="#3ec43c" stroke-width="0.6"/>
<circle cx="471.6" cy="332.5" r="4.7" fill="#1c720f" stroke="#3ec43c" stroke-width="0.6"/>
<circle cx="476.6" cy="332.5" r="4.7" fill="#1c720f" stroke="#3ec43c" stroke-width="0.6"/>
<circle cx="481.5" cy="332.5" r="4.7" fill="#1c720f" stroke="#3ec43c" stroke-width="0.6"/>
<circle cx="486.4" cy="332.5" r="4.7" fill="#1c720f" stroke="#3ec43c" stroke-width="0.6"/>
<circle cx="491.4" cy="332.5" r="4.7" fill="#1c720f" stroke="#3ec43c" stroke-width="0.6"/>
<circle cx="471.6" cy="337.4" r="4.7" fill="#1c720f" stroke="#3ec43c" stroke-width="0.6"/>
<circle cx="476.6" cy="337.4" r="4.7" fill="#1c720f" stroke="#3ec43c" stroke-width="0.6"/>
<circle cx="481.5" cy="337.4" r="4.7" fill="#1c720f" stroke="#3ec43c" stroke-width="0.6"/>
<circle cx="486.4" cy="337.4" r="4.7" fill="#1c720f" stroke="#3ec43c" stroke-width="0.6"/>
<circle cx="491.4" cy="337.4" r="4.7" fill="#1c720f" stroke="#3ec43c" stroke-width="0.6"/>
<circle cx="471.6" cy="342.4" r="4.7" fill="#1c720f" stroke="#3ec43c" stroke-width="0.6"/>
<circle cx="476.6" cy="342.4" r="4.7" fill="#1c720f" stroke="#3ec43c" stroke-width="0.6"/>
<circle cx="481.5" cy="342.4" r="4.7" fill="#1c720f" stroke="#3ec43c" stroke-width="0.6"/>
<circle cx="486.4" cy="342.4" r="4.7" fill="#1c720f" stroke="#3ec43c" stroke-width="0.6"/>
<circle cx="491.4" cy="342.4" r="4.7" fill="#1c720f" stroke="#3ec43c" stroke-width="0.6"/>
<circle cx="472.6" cy="349.6" r="4.7" fill="#1c720f" stroke="#3ec43c" stroke-width="0.6"/>
<circle cx="477.5" cy="349.6" r="4.7" fill="#1c720f" stroke="#3ec43c" stroke-width="0.6"/>
<circle cx="482.5" cy="349.6" r="4.7" fill="#1c720f" stroke="#3ec43c" stroke-width="0.6"/>
<circle cx="487.4" cy="349.6" r="4.7" fill="#1c720f" stroke="#3ec43c" stroke-width="0.6"/>
<circle cx="472.6" cy="355.5" r="4.7" fill="#1c720f" stroke="#3ec43c" stroke-width="0.6"/>
<circle cx="477.5" cy="355.5" r="4.7" fill="#1c720f" stroke="#3ec43c" stroke-width="0.6"/>
<circle cx="482.5" cy="355.5" r="4.7" fill="#1c720f" stroke="#3ec43c" stroke-width="0.6"/>
<circle cx="487.4" cy="355.5" r="4.7" fill="#1c720f" stroke="#3ec43c" stroke-width="0.6"/>
<circle cx="472.6" cy="361.4" r="4.7" fill="#1c720f" stroke="#3ec43c" stroke-width="0.6"/>
<circle cx="477.5" cy="361.4" r="4.7" fill="#1c720f" stroke="#3ec43c" stroke-width="0.6"/>
<circle cx="482.5" cy="361.4" r="4.7" fill="#1c720f" stroke="#3ec43c" stroke-width="0.6"/>
<circle cx="487.4" cy="361.4" r="4.7" fill="#1c720f" stroke="#3ec43c" stroke-width="0.6"/>
<circle cx="553.6" cy="308.0" r="4.7" fill="#e80a7e" stroke="#a00c5c" stroke-width="0.6"/>
<circle cx="558.2" cy="308.0" r="4.7" fill="#e80a7e" stroke="#a00c5c" stroke-width="0.6"/>
<circle cx="562.8" cy="308.0" r="4.7" fill="#e80a7e" stroke="#a00c5c" stroke-width="0.6"/>
<circle cx="567.4" cy="308.0" r="4.7" fill="#e80a7e" stroke="#a00c5c" stroke-width="0.6"/>
<circle cx="552.6" cy="315.6" r="4.7" fill="#e80a7e" stroke="#a00c5c" stroke-width="0.6"/>
<circle cx="557.3" cy="315.6" r="4.7" fill="#e80a7e" stroke="#a00c5c" stroke-width="0.6"/>
<circle cx="562.0" cy="315.6" r="4.7" fill="#e80a7e" stroke="#a00c5c" stroke-width="0.6"/>
<circle cx="566.7" cy="315.6" r="4.7" fill="#e80a7e" stroke="#a00c5c" stroke-width="0.6"/>
<circle cx="571.4" cy="315.6" r="4.7" fill="#e80a7e" stroke="#a00c5c" stroke-width="0.6"/>
<circle cx="552.6" cy="320.6" r="4.7" fill="#e80a7e" stroke="#a00c5c" stroke-width="0.6"/>
<circle cx="557.3" cy="320.6" r="4.7" fill="#e80a7e" stroke="#a00c5c" stroke-width="0.6"/>
<circle cx="562.0" cy="320.6" r="4.7" fill="#e80a7e" stroke="#a00c5c" stroke-width="0.6"/>
<circle cx="566.7" cy="320.6" r="4.7" fill="#e80a7e" stroke="#a00c5c" stroke-width="0.6"/>
<circle cx="571.4" cy="320.6" r="4.7" fill="#e80a7e" stroke="#a00c5c" stroke-width="0.6"/>
<circle cx="552.6" cy="325.5" r="4.7" fill="#e80a7e" stroke="#a00c5c" stroke-width="0.6"/>
<circle cx="557.3" cy="325.5" r="4.7" fill="#e80a7e" stroke="#a00c5c" stroke-width="0.6"/>
<circle cx="562.0" cy="325.5" r="4.7" fill="#e80a7e" stroke="#a00c5c" stroke-width="0.6"/>
<circle cx="566.7" cy="325.5" r="4.7" fill="#e80a7e" stroke="#a00c5c" stroke-width="0.6"/>
<circle cx="571.4" cy="325.5" r="4.7" fill="#e80a7e" stroke="#a00c5c" stroke-width="0.6"/>
<circle cx="552.6" cy="330.5" r="4.7" fill="#e80a7e" stroke="#a00c5c" stroke-width="0.6"/>
<circle cx="557.3" cy="330.5" r="4.7" fill="#e80a7e" stroke="#a00c5c" stroke-width="0.6"/>
<circle cx="562.0" cy="330.5" r="4.7" fill="#e80a7e" stroke="#a00c5c" stroke-width="0.6"/>
<circle cx="566.7" cy="330.5" r="4.7" fill="#e80a7e" stroke="#a00c5c" stroke-width="0.6"/>
<circle cx="571.4" cy="330.5" r="4.7" fill="#e80a7e" stroke="#a00c5c" stroke-width="0.6"/>
<circle cx="552.6" cy="335.4" r="4.7" fill="#e80a7e" stroke="#a00c5c" stroke-width="0.6"/>
<circle cx="557.3" cy="335.4" r="4.7" fill="#e80a7e" stroke="#a00c5c" stroke-width="0.6"/>
<circle cx="562.0" cy="335.4" r="4.7" fill="#e80a7e" stroke="#a00c5c" stroke-width="0.6"/>
<circle cx="566.7" cy="335.4" r="4.7" fill="#e80a7e" stroke="#a00c5c" stroke-width="0.6"/>
<circle cx="571.4" cy="335.4" r="4.7" fill="#e80a7e" stroke="#a00c5c" stroke-width="0.6"/>
<circle cx="552.6" cy="340.4" r="4.7" fill="#e80a7e" stroke="#a00c5c" stroke-width="0.6"/>
<circle cx="557.3" cy="340.4" r="4.7" fill="#e80a7e" stroke="#a00c5c" stroke-width="0.6"/>
<circle cx="562.0" cy="340.4" r="4.7" fill="#e80a7e" stroke="#a00c5c" stroke-width="0.6"/>
<circle cx="566.7" cy="340.4" r="4.7" fill="#e80a7e" stroke="#a00c5c" stroke-width="0.6"/>
<circle cx="571.4" cy="340.4" r="4.7" fill="#e80a7e" stroke="#a00c5c" stroke-width="0.6"/>
<circle cx="633.6" cy="307.6" r="4.7" fill="#f88a10" stroke="#c66a0c" stroke-width="0.6"/>
<circle cx="638.5" cy="307.6" r="4.7" fill="#f88a10" stroke="#c66a0c" stroke-width="0.6"/>
<circle cx="643.5" cy="307.6" r="4.7" fill="#f88a10" stroke="#c66a0c" stroke-width="0.6"/>
<circle cx="648.5" cy="307.6" r="4.7" fill="#f88a10" stroke="#c66a0c" stroke-width="0.6"/>
<circle cx="653.4" cy="307.6" r="4.7" fill="#f88a10" stroke="#c66a0c" stroke-width="0.6"/>
<circle cx="633.6" cy="312.4" r="4.7" fill="#f88a10" stroke="#c66a0c" stroke-width="0.6"/>
<circle cx="638.5" cy="312.4" r="4.7" fill="#f88a10" stroke="#c66a0c" stroke-width="0.6"/>
<circle cx="643.5" cy="312.4" r="4.7" fill="#f88a10" stroke="#c66a0c" stroke-width="0.6"/>
<circle cx="648.5" cy="312.4" r="4.7" fill="#f88a10" stroke="#c66a0c" stroke-width="0.6"/>
<circle cx="653.4" cy="312.4" r="4.7" fill="#f88a10" stroke="#c66a0c" stroke-width="0.6"/>
<circle cx="633.6" cy="317.3" r="4.7" fill="#f88a10" stroke="#c66a0c" stroke-width="0.6"/>
<circle cx="638.5" cy="317.3" r="4.7" fill="#f88a10" stroke="#c66a0c" stroke-width="0.6"/>
<circle cx="643.5" cy="317.3" r="4.7" fill="#f88a10" stroke="#c66a0c" stroke-width="0.6"/>
<circle cx="648.5" cy="317.3" r="4.7" fill="#f88a10" stroke="#c66a0c" stroke-width="0.6"/>
<circle cx="653.4" cy="317.3" r="4.7" fill="#f88a10" stroke="#c66a0c" stroke-width="0.6"/>
<circle cx="633.6" cy="322.1" r="4.7" fill="#f88a10" stroke="#c66a0c" stroke-width="0.6"/>
<circle cx="638.5" cy="322.1" r="4.7" fill="#f88a10" stroke="#c66a0c" stroke-width="0.6"/>
<circle cx="643.5" cy="322.1" r="4.7" fill="#f88a10" stroke="#c66a0c" stroke-width="0.6"/>
<circle cx="648.5" cy="322.1" r="4.7" fill="#f88a10" stroke="#c66a0c" stroke-width="0.6"/>
<circle cx="653.4" cy="322.1" r="4.7" fill="#f88a10" stroke="#c66a0c" stroke-width="0.6"/>
<circle cx="633.6" cy="326.9" r="4.7" fill="#f88a10" stroke="#c66a0c" stroke-width="0.6"/>
<circle cx="638.5" cy="326.9" r="4.7" fill="#f88a10" stroke="#c66a0c" stroke-width="0.6"/>
<circle cx="643.5" cy="326.9" r="4.7" fill="#f88a10" stroke="#c66a0c" stroke-width="0.6"/>
<circle cx="648.5" cy="326.9" r="4.7" fill="#f88a10" stroke="#c66a0c" stroke-width="0.6"/>
<circle cx="653.4" cy="326.9" r="4.7" fill="#f88a10" stroke="#c66a0c" stroke-width="0.6"/>
<circle cx="633.6" cy="331.7" r="4.7" fill="#f88a10" stroke="#c66a0c" stroke-width="0.6"/>
<circle cx="638.5" cy="331.7" r="4.7" fill="#f88a10" stroke="#c66a0c" stroke-width="0.6"/>
<circle cx="643.5" cy="331.7" r="4.7" fill="#f88a10" stroke="#c66a0c" stroke-width="0.6"/>
<circle cx="648.5" cy="331.7" r="4.7" fill="#f88a10" stroke="#c66a0c" stroke-width="0.6"/>
<circle cx="653.4" cy="331.7" r="4.7" fill="#f88a10" stroke="#c66a0c" stroke-width="0.6"/>
<circle cx="633.6" cy="336.6" r="4.7" fill="#f88a10" stroke="#c66a0c" stroke-width="0.6"/>
<circle cx="638.5" cy="336.6" r="4.7" fill="#f88a10" stroke="#c66a0c" stroke-width="0.6"/>
<circle cx="643.5" cy="336.6" r="4.7" fill="#f88a10" stroke="#c66a0c" stroke-width="0.6"/>
<circle cx="648.5" cy="336.6" r="4.7" fill="#f88a10" stroke="#c66a0c" stroke-width="0.6"/>
<circle cx="653.4" cy="336.6" r="4.7" fill="#f88a10" stroke="#c66a0c" stroke-width="0.6"/>
<circle cx="633.6" cy="341.4" r="4.7" fill="#f88a10" stroke="#c66a0c" stroke-width="0.6"/>
<circle cx="638.5" cy="341.4" r="4.7" fill="#f88a10" stroke="#c66a0c" stroke-width="0.6"/>
<circle cx="643.5" cy="341.4" r="4.7" fill="#f88a10" stroke="#c66a0c" stroke-width="0.6"/>
<circle cx="648.5" cy="341.4" r="4.7" fill="#f88a10" stroke="#c66a0c" stroke-width="0.6"/>
<circle cx="653.4" cy="341.4" r="4.7" fill="#f88a10" stroke="#c66a0c" stroke-width="0.6"/>
<circle cx="635.6" cy="348.6" r="4.7" fill="#f88a10" stroke="#c66a0c" stroke-width="0.6"/>
<circle cx="641.5" cy="348.6" r="4.7" fill="#f88a10" stroke="#c66a0c" stroke-width="0.6"/>
<circle cx="647.4" cy="348.6" r="4.7" fill="#f88a10" stroke="#c66a0c" stroke-width="0.6"/>
<circle cx="635.6" cy="351.4" r="4.7" fill="#f88a10" stroke="#c66a0c" stroke-width="0.6"/>
<circle cx="641.5" cy="351.4" r="4.7" fill="#f88a10" stroke="#c66a0c" stroke-width="0.6"/>
<circle cx="647.4" cy="351.4" r="4.7" fill="#f88a10" stroke="#c66a0c" stroke-width="0.6"/>
<circle cx="397.0" cy="307.8" r="4.7" fill="#5a0bb4" stroke="#3a0878" stroke-width="0.6"/>
<circle cx="403.6" cy="308.0" r="4.7" fill="#5a0bb4" stroke="#3a0878" stroke-width="0.6"/>
<circle cx="389.7" cy="314.4" r="4.7" fill="#5a0bb4" stroke="#3a0878" stroke-width="0.6"/>
<circle cx="394.4" cy="313.8" r="4.7" fill="#5a0bb4" stroke="#3a0878" stroke-width="0.6"/>
<circle cx="389.7" cy="326" r="4.7" fill="#5a0bb4" stroke="#3a0878" stroke-width="0.6"/>
<circle cx="393.3" cy="326" r="4.7" fill="#5a0bb4" stroke="#3a0878" stroke-width="0.6"/>
<circle cx="399.3" cy="326" r="4.7" fill="#5a0bb4" stroke="#3a0878" stroke-width="0.6"/>
<circle cx="403" cy="326" r="4.7" fill="#5a0bb4" stroke="#3a0878" stroke-width="0.6"/>
<circle cx="406.2" cy="326" r="4.7" fill="#5a0bb4" stroke="#3a0878" stroke-width="0.6"/>
<circle cx="409.4" cy="327" r="4.7" fill="#5a0bb4" stroke="#3a0878" stroke-width="0.6"/>
<circle cx="392" cy="331.7" r="4.7" fill="#5a0bb4" stroke="#3a0878" stroke-width="0.6"/>
<circle cx="401.6" cy="331.7" r="4.7" fill="#5a0bb4" stroke="#3a0878" stroke-width="0.6"/>
<circle cx="408.5" cy="331.7" r="4.7" fill="#5a0bb4" stroke="#3a0878" stroke-width="0.6"/>
<circle cx="389.2" cy="340.9" r="4.7" fill="#5a0bb4" stroke="#3a0878" stroke-width="0.6"/>
<circle cx="398.9" cy="340.9" r="4.7" fill="#5a0bb4" stroke="#3a0878" stroke-width="0.6"/>
<circle cx="408" cy="340.9" r="4.7" fill="#5a0bb4" stroke="#3a0878" stroke-width="0.6"/>
<circle cx="389.7" cy="348.3" r="4.7" fill="#5a0bb4" stroke="#3a0878" stroke-width="0.6"/>
<circle cx="397" cy="348.3" r="4.7" fill="#5a0bb4" stroke="#3a0878" stroke-width="0.6"/>
<circle cx="407.1" cy="348.3" r="4.7" fill="#5a0bb4" stroke="#3a0878" stroke-width="0.6"/>
<circle cx="390.1" cy="354.3" r="4.7" fill="#5a0bb4" stroke="#3a0878" stroke-width="0.6"/>
<circle cx="404.4" cy="354.3" r="4.7" fill="#5a0bb4" stroke="#3a0878" stroke-width="0.6"/>
<circle cx="409.9" cy="354.3" r="4.7" fill="#5a0bb4" stroke="#3a0878" stroke-width="0.6"/>
<circle cx="390.6" cy="361.6" r="4.7" fill="#5a0bb4" stroke="#3a0878" stroke-width="0.6"/>
<circle cx="401.6" cy="361.6" r="4.7" fill="#5a0bb4" stroke="#3a0878" stroke-width="0.6"/>
<circle cx="396" cy="358" r="4.7" fill="#5a0bb4" stroke="#3a0878" stroke-width="0.6"/>
<circle cx="392" cy="366.2" r="4.7" fill="#5a0bb4" stroke="#3a0878" stroke-width="0.6"/>
<circle cx="401.6" cy="366.2" r="4.7" fill="#5a0bb4" stroke="#3a0878" stroke-width="0.6"/>
<circle cx="408.5" cy="366.2" r="4.7" fill="#5a0bb4" stroke="#3a0878" stroke-width="0.6"/>
<circle cx="395.6" cy="373.5" r="4.7" fill="#5a0bb4" stroke="#3a0878" stroke-width="0.6"/>
<circle cx="405.7" cy="373.5" r="4.7" fill="#5a0bb4" stroke="#3a0878" stroke-width="0.6"/>
<circle cx="391.5" cy="380" r="4.7" fill="#5a0bb4" stroke="#3a0878" stroke-width="0.6"/>
<circle cx="397" cy="380" r="4.7" fill="#5a0bb4" stroke="#3a0878" stroke-width="0.6"/>
<circle cx="406.2" cy="380" r="4.7" fill="#5a0bb4" stroke="#3a0878" stroke-width="0.6"/>
<circle cx="392.4" cy="382.8" r="4.7" fill="#5a0bb4" stroke="#3a0878" stroke-width="0.6"/>
<circle cx="397.9" cy="380.9" r="4.7" fill="#5a0bb4" stroke="#3a0878" stroke-width="0.6"/>
<circle cx="407.6" cy="384.5" r="4.7" fill="#5a0bb4" stroke="#3a0878" stroke-width="0.6"/>
<circle cx="392.4" cy="388.3" r="4.7" fill="#5a0bb4" stroke="#3a0878" stroke-width="0.6"/>
<circle cx="407.1" cy="387.3" r="4.7" fill="#5a0bb4" stroke="#3a0878" stroke-width="0.6"/>
<circle cx="392" cy="394.7" r="4.7" fill="#5a0bb4" stroke="#3a0878" stroke-width="0.6"/>
<circle cx="403.4" cy="394.7" r="4.7" fill="#5a0bb4" stroke="#3a0878" stroke-width="0.6"/>
<circle cx="407.1" cy="394.7" r="4.7" fill="#5a0bb4" stroke="#3a0878" stroke-width="0.6"/>
<circle cx="398.7" cy="401.1" r="4.7" fill="#5a0bb4" stroke="#3a0878" stroke-width="0.6"/>
<circle cx="404.4" cy="413.9" r="4.7" fill="#5a0bb4" stroke="#3a0878" stroke-width="0.6"/>
<circle cx="392.9" cy="420.8" r="4.7" fill="#5a0bb4" stroke="#3a0878" stroke-width="0.6"/>
<circle cx="407.1" cy="420.8" r="4.7" fill="#5a0bb4" stroke="#3a0878" stroke-width="0.6"/>
<circle cx="395.9" cy="436.9" r="4.7" fill="#5a0bb4" stroke="#3a0878" stroke-width="0.6"/>
<circle cx="394.1" cy="440.5" r="4.7" fill="#5a0bb4" stroke="#3a0878" stroke-width="0.6"/>
<circle cx="389.9" cy="454.2" r="4.7" fill="#5a0bb4" stroke="#3a0878" stroke-width="0.6"/>
<circle cx="389.9" cy="462.6" r="4.7" fill="#5a0bb4" stroke="#3a0878" stroke-width="0.6"/>
<circle cx="400.1" cy="463.2" r="4.7" fill="#5a0bb4" stroke="#3a0878" stroke-width="0.6"/>
<circle cx="406.6" cy="463.2" r="4.7" fill="#5a0bb4" stroke="#3a0878" stroke-width="0.6"/>
<circle cx="392.3" cy="469.7" r="4.7" fill="#5a0bb4" stroke="#3a0878" stroke-width="0.6"/>
<circle cx="397.1" cy="469.2" r="4.7" fill="#5a0bb4" stroke="#3a0878" stroke-width="0.6"/>
<circle cx="406.6" cy="473.3" r="4.7" fill="#5a0bb4" stroke="#3a0878" stroke-width="0.6"/>
<circle cx="394.1" cy="480.5" r="4.7" fill="#5a0bb4" stroke="#3a0878" stroke-width="0.6"/>
<circle cx="400.7" cy="480.5" r="4.7" fill="#5a0bb4" stroke="#3a0878" stroke-width="0.6"/>
<circle cx="407.8" cy="480.5" r="4.7" fill="#5a0bb4" stroke="#3a0878" stroke-width="0.6"/>
<circle cx="471.5" cy="307.4" r="4.7" fill="#1c720f" stroke="#3ec43c" stroke-width="0.6"/>
<circle cx="471.1" cy="316.6" r="4.7" fill="#1c720f" stroke="#3ec43c" stroke-width="0.6"/>
<circle cx="480.7" cy="313.3" r="4.7" fill="#1c720f" stroke="#3ec43c" stroke-width="0.6"/>
<circle cx="488.9" cy="314.3" r="4.7" fill="#1c720f" stroke="#3ec43c" stroke-width="0.6"/>
<circle cx="491.2" cy="319.3" r="4.7" fill="#1c720f" stroke="#3ec43c" stroke-width="0.6"/>
<circle cx="471.1" cy="325.3" r="4.7" fill="#1c720f" stroke="#3ec43c" stroke-width="0.6"/>
<circle cx="479.8" cy="324.4" r="4.7" fill="#1c720f" stroke="#3ec43c" stroke-width="0.6"/>
<circle cx="486.2" cy="325.3" r="4.7" fill="#1c720f" stroke="#3ec43c" stroke-width="0.6"/>
<circle cx="491.2" cy="325.3" r="4.7" fill="#1c720f" stroke="#3ec43c" stroke-width="0.6"/>
<circle cx="473.3" cy="334.4" r="4.7" fill="#1c720f" stroke="#3ec43c" stroke-width="0.6"/>
<circle cx="478.9" cy="335.4" r="4.7" fill="#1c720f" stroke="#3ec43c" stroke-width="0.6"/>
<circle cx="488.9" cy="334.4" r="4.7" fill="#1c720f" stroke="#3ec43c" stroke-width="0.6"/>
<circle cx="492.6" cy="336.3" r="4.7" fill="#1c720f" stroke="#3ec43c" stroke-width="0.6"/>
<circle cx="471.5" cy="341.8" r="4.7" fill="#1c720f" stroke="#3ec43c" stroke-width="0.6"/>
<circle cx="477.9" cy="341.8" r="4.7" fill="#1c720f" stroke="#3ec43c" stroke-width="0.6"/>
<circle cx="489.9" cy="341.8" r="4.7" fill="#1c720f" stroke="#3ec43c" stroke-width="0.6"/>
<circle cx="472.4" cy="335.9" r="4.7" fill="#1c720f" stroke="#3ec43c" stroke-width="0.6"/>
<circle cx="489.9" cy="335.9" r="4.7" fill="#1c720f" stroke="#3ec43c" stroke-width="0.6"/>
<circle cx="472" cy="342.3" r="4.7" fill="#1c720f" stroke="#3ec43c" stroke-width="0.6"/>
<circle cx="477.9" cy="342.3" r="4.7" fill="#1c720f" stroke="#3ec43c" stroke-width="0.6"/>
<circle cx="489" cy="343.3" r="4.7" fill="#1c720f" stroke="#3ec43c" stroke-width="0.6"/>
<circle cx="473.3" cy="351.1" r="4.7" fill="#1c720f" stroke="#3ec43c" stroke-width="0.6"/>
<circle cx="477" cy="351.1" r="4.7" fill="#1c720f" stroke="#3ec43c" stroke-width="0.6"/>
<circle cx="483.4" cy="351.1" r="4.7" fill="#1c720f" stroke="#3ec43c" stroke-width="0.6"/>
<circle cx="473.3" cy="359.3" r="4.7" fill="#1c720f" stroke="#3ec43c" stroke-width="0.6"/>
<circle cx="486.2" cy="359.8" r="4.7" fill="#1c720f" stroke="#3ec43c" stroke-width="0.6"/>
<circle cx="477.9" cy="365.3" r="4.7" fill="#1c720f" stroke="#3ec43c" stroke-width="0.6"/>
<circle cx="482.5" cy="369.9" r="4.7" fill="#1c720f" stroke="#3ec43c" stroke-width="0.6"/>
<circle cx="490.8" cy="371.2" r="4.7" fill="#1c720f" stroke="#3ec43c" stroke-width="0.6"/>
<circle cx="473.3" cy="376.7" r="4.7" fill="#1c720f" stroke="#3ec43c" stroke-width="0.6"/>
<circle cx="486.2" cy="375.4" r="4.7" fill="#1c720f" stroke="#3ec43c" stroke-width="0.6"/>
<circle cx="487.1" cy="380.9" r="4.7" fill="#1c720f" stroke="#3ec43c" stroke-width="0.6"/>
<circle cx="471.5" cy="382.7" r="4.7" fill="#1c720f" stroke="#3ec43c" stroke-width="0.6"/>
<circle cx="473.3" cy="380.9" r="4.7" fill="#1c720f" stroke="#3ec43c" stroke-width="0.6"/>
<circle cx="486.7" cy="380.9" r="4.7" fill="#1c720f" stroke="#3ec43c" stroke-width="0.6"/>
<circle cx="471.5" cy="386" r="4.7" fill="#1c720f" stroke="#3ec43c" stroke-width="0.6"/>
<circle cx="477" cy="385.5" r="4.7" fill="#1c720f" stroke="#3ec43c" stroke-width="0.6"/>
<circle cx="472.9" cy="394.2" r="4.7" fill="#1c720f" stroke="#3ec43c" stroke-width="0.6"/>
<circle cx="483.9" cy="394.2" r="4.7" fill="#1c720f" stroke="#3ec43c" stroke-width="0.6"/>
<circle cx="477" cy="401.1" r="4.7" fill="#1c720f" stroke="#3ec43c" stroke-width="0.6"/>
<circle cx="483.4" cy="401.1" r="4.7" fill="#1c720f" stroke="#3ec43c" stroke-width="0.6"/>
<circle cx="488.9" cy="400.6" r="4.7" fill="#1c720f" stroke="#3ec43c" stroke-width="0.6"/>
<circle cx="483.4" cy="408" r="4.7" fill="#1c720f" stroke="#3ec43c" stroke-width="0.6"/>
<circle cx="477.5" cy="411.7" r="4.7" fill="#1c720f" stroke="#3ec43c" stroke-width="0.6"/>
<circle cx="477" cy="422.7" r="4.7" fill="#1c720f" stroke="#3ec43c" stroke-width="0.6"/>
<circle cx="483.4" cy="426.3" r="4.7" fill="#1c720f" stroke="#3ec43c" stroke-width="0.6"/>
<circle cx="477.1" cy="425" r="4.7" fill="#1c720f" stroke="#3ec43c" stroke-width="0.6"/>
<circle cx="483" cy="427.4" r="4.7" fill="#1c720f" stroke="#3ec43c" stroke-width="0.6"/>
<circle cx="475.9" cy="434" r="4.7" fill="#1c720f" stroke="#3ec43c" stroke-width="0.6"/>
<circle cx="481.8" cy="440.5" r="4.7" fill="#1c720f" stroke="#3ec43c" stroke-width="0.6"/>
<circle cx="475.3" cy="441.1" r="4.7" fill="#1c720f" stroke="#3ec43c" stroke-width="0.6"/>
<circle cx="474.1" cy="446.5" r="4.7" fill="#1c720f" stroke="#3ec43c" stroke-width="0.6"/>
<circle cx="472.3" cy="451.8" r="4.7" fill="#1c720f" stroke="#3ec43c" stroke-width="0.6"/>
<circle cx="480.1" cy="460.2" r="4.7" fill="#1c720f" stroke="#3ec43c" stroke-width="0.6"/>
<circle cx="489" cy="463" r="4.7" fill="#1c720f" stroke="#3ec43c" stroke-width="0.6"/>
<circle cx="470.5" cy="468.6" r="4.7" fill="#1c720f" stroke="#3ec43c" stroke-width="0.6"/>
<circle cx="478.9" cy="467.4" r="4.7" fill="#1c720f" stroke="#3ec43c" stroke-width="0.6"/>
<circle cx="484.8" cy="473.3" r="4.7" fill="#1c720f" stroke="#3ec43c" stroke-width="0.6"/>
<circle cx="474.1" cy="473.9" r="4.7" fill="#1c720f" stroke="#3ec43c" stroke-width="0.6"/>
<circle cx="479.5" cy="475.1" r="4.7" fill="#1c720f" stroke="#3ec43c" stroke-width="0.6"/>
<circle cx="470.5" cy="480.5" r="4.7" fill="#1c720f" stroke="#3ec43c" stroke-width="0.6"/>
<circle cx="476.5" cy="480.5" r="4.7" fill="#1c720f" stroke="#3ec43c" stroke-width="0.6"/>
<circle cx="483.6" cy="480.5" r="4.7" fill="#1c720f" stroke="#3ec43c" stroke-width="0.6"/>
<circle cx="553.6" cy="307.8" r="4.7" fill="#e80a7e" stroke="#a00c5c" stroke-width="0.6"/>
<circle cx="559.1" cy="307.4" r="4.7" fill="#e80a7e" stroke="#a00c5c" stroke-width="0.6"/>
<circle cx="566.9" cy="307.4" r="4.7" fill="#e80a7e" stroke="#a00c5c" stroke-width="0.6"/>
<circle cx="554.1" cy="316.6" r="4.7" fill="#e80a7e" stroke="#a00c5c" stroke-width="0.6"/>
<circle cx="560.9" cy="314.7" r="4.7" fill="#e80a7e" stroke="#a00c5c" stroke-width="0.6"/>
<circle cx="571" cy="314.3" r="4.7" fill="#e80a7e" stroke="#a00c5c" stroke-width="0.6"/>
<circle cx="551.8" cy="325.3" r="4.7" fill="#e80a7e" stroke="#a00c5c" stroke-width="0.6"/>
<circle cx="560" cy="322.5" r="4.7" fill="#e80a7e" stroke="#a00c5c" stroke-width="0.6"/>
<circle cx="570.1" cy="322.5" r="4.7" fill="#e80a7e" stroke="#a00c5c" stroke-width="0.6"/>
<circle cx="559.1" cy="327.1" r="4.7" fill="#e80a7e" stroke="#a00c5c" stroke-width="0.6"/>
<circle cx="565.5" cy="328" r="4.7" fill="#e80a7e" stroke="#a00c5c" stroke-width="0.6"/>
<circle cx="571.9" cy="327.1" r="4.7" fill="#e80a7e" stroke="#a00c5c" stroke-width="0.6"/>
<circle cx="552.7" cy="336.3" r="4.7" fill="#e80a7e" stroke="#a00c5c" stroke-width="0.6"/>
<circle cx="561.9" cy="335.4" r="4.7" fill="#e80a7e" stroke="#a00c5c" stroke-width="0.6"/>
<circle cx="571" cy="336.3" r="4.7" fill="#e80a7e" stroke="#a00c5c" stroke-width="0.6"/>
<circle cx="553.6" cy="341.8" r="4.7" fill="#e80a7e" stroke="#a00c5c" stroke-width="0.6"/>
<circle cx="569.2" cy="341.8" r="4.7" fill="#e80a7e" stroke="#a00c5c" stroke-width="0.6"/>
<circle cx="572.9" cy="340.9" r="4.7" fill="#e80a7e" stroke="#a00c5c" stroke-width="0.6"/>
<circle cx="552.7" cy="336.8" r="4.7" fill="#e80a7e" stroke="#a00c5c" stroke-width="0.6"/>
<circle cx="570.1" cy="337.8" r="4.7" fill="#e80a7e" stroke="#a00c5c" stroke-width="0.6"/>
<circle cx="553.1" cy="343.7" r="4.7" fill="#e80a7e" stroke="#a00c5c" stroke-width="0.6"/>
<circle cx="567.4" cy="343.3" r="4.7" fill="#e80a7e" stroke="#a00c5c" stroke-width="0.6"/>
<circle cx="571.9" cy="341.9" r="4.7" fill="#e80a7e" stroke="#a00c5c" stroke-width="0.6"/>
<circle cx="554.1" cy="349.2" r="4.7" fill="#e80a7e" stroke="#a00c5c" stroke-width="0.6"/>
<circle cx="565.1" cy="348.8" r="4.7" fill="#e80a7e" stroke="#a00c5c" stroke-width="0.6"/>
<circle cx="554.5" cy="352.4" r="4.7" fill="#e80a7e" stroke="#a00c5c" stroke-width="0.6"/>
<circle cx="567.4" cy="354.7" r="4.7" fill="#e80a7e" stroke="#a00c5c" stroke-width="0.6"/>
<circle cx="558.6" cy="359.8" r="4.7" fill="#e80a7e" stroke="#a00c5c" stroke-width="0.6"/>
<circle cx="567.4" cy="360.2" r="4.7" fill="#e80a7e" stroke="#a00c5c" stroke-width="0.6"/>
<circle cx="568.3" cy="368" r="4.7" fill="#e80a7e" stroke="#a00c5c" stroke-width="0.6"/>
<circle cx="552.2" cy="371.2" r="4.7" fill="#e80a7e" stroke="#a00c5c" stroke-width="0.6"/>
<circle cx="555.9" cy="371.2" r="4.7" fill="#e80a7e" stroke="#a00c5c" stroke-width="0.6"/>
<circle cx="560.5" cy="374.4" r="4.7" fill="#e80a7e" stroke="#a00c5c" stroke-width="0.6"/>
<circle cx="569.2" cy="376.7" r="4.7" fill="#e80a7e" stroke="#a00c5c" stroke-width="0.6"/>
<circle cx="568.7" cy="380" r="4.7" fill="#e80a7e" stroke="#a00c5c" stroke-width="0.6"/>
<circle cx="560" cy="393.8" r="4.7" fill="#e80a7e" stroke="#a00c5c" stroke-width="0.6"/>
<circle cx="563.2" cy="393.8" r="4.7" fill="#e80a7e" stroke="#a00c5c" stroke-width="0.6"/>
<circle cx="560.9" cy="400.2" r="4.7" fill="#e80a7e" stroke="#a00c5c" stroke-width="0.6"/>
<circle cx="552.7" cy="402.5" r="4.7" fill="#e80a7e" stroke="#a00c5c" stroke-width="0.6"/>
<circle cx="560.9" cy="407.5" r="4.7" fill="#e80a7e" stroke="#a00c5c" stroke-width="0.6"/>
<circle cx="558.2" cy="411.7" r="4.7" fill="#e80a7e" stroke="#a00c5c" stroke-width="0.6"/>
<circle cx="568.7" cy="419.9" r="4.7" fill="#e80a7e" stroke="#a00c5c" stroke-width="0.6"/>
<circle cx="557.3" cy="427.7" r="4.7" fill="#e80a7e" stroke="#a00c5c" stroke-width="0.6"/>
<circle cx="557.1" cy="428.6" r="4.7" fill="#e80a7e" stroke="#a00c5c" stroke-width="0.6"/>
<circle cx="569" cy="434.5" r="4.7" fill="#e80a7e" stroke="#a00c5c" stroke-width="0.6"/>
<circle cx="552.9" cy="436.9" r="4.7" fill="#e80a7e" stroke="#a00c5c" stroke-width="0.6"/>
<circle cx="554.7" cy="440.5" r="4.7" fill="#e80a7e" stroke="#a00c5c" stroke-width="0.6"/>
<circle cx="557.7" cy="446.5" r="4.7" fill="#e80a7e" stroke="#a00c5c" stroke-width="0.6"/>
<circle cx="553.5" cy="453.6" r="4.7" fill="#e80a7e" stroke="#a00c5c" stroke-width="0.6"/>
<circle cx="559.5" cy="454.2" r="4.7" fill="#e80a7e" stroke="#a00c5c" stroke-width="0.6"/>
<circle cx="564.8" cy="454.2" r="4.7" fill="#e80a7e" stroke="#a00c5c" stroke-width="0.6"/>
<circle cx="570.8" cy="453.6" r="4.7" fill="#e80a7e" stroke="#a00c5c" stroke-width="0.6"/>
<circle cx="556.5" cy="460.8" r="4.7" fill="#e80a7e" stroke="#a00c5c" stroke-width="0.6"/>
<circle cx="555.3" cy="480.5" r="4.7" fill="#e80a7e" stroke="#a00c5c" stroke-width="0.6"/>
<circle cx="561.9" cy="480.5" r="4.7" fill="#e80a7e" stroke="#a00c5c" stroke-width="0.6"/>
<circle cx="567.8" cy="480.5" r="4.7" fill="#e80a7e" stroke="#a00c5c" stroke-width="0.6"/>
<circle cx="633.8" cy="307.4" r="4.7" fill="#f88a10" stroke="#c66a0c" stroke-width="0.6"/>
<circle cx="639.3" cy="307.4" r="4.7" fill="#f88a10" stroke="#c66a0c" stroke-width="0.6"/>
<circle cx="643.9" cy="307.4" r="4.7" fill="#f88a10" stroke="#c66a0c" stroke-width="0.6"/>
<circle cx="650.7" cy="307.4" r="4.7" fill="#f88a10" stroke="#c66a0c" stroke-width="0.6"/>
<circle cx="653.9" cy="307.8" r="4.7" fill="#f88a10" stroke="#c66a0c" stroke-width="0.6"/>
<circle cx="633.8" cy="316.1" r="4.7" fill="#f88a10" stroke="#c66a0c" stroke-width="0.6"/>
<circle cx="640.2" cy="315.2" r="4.7" fill="#f88a10" stroke="#c66a0c" stroke-width="0.6"/>
<circle cx="647.5" cy="315.2" r="4.7" fill="#f88a10" stroke="#c66a0c" stroke-width="0.6"/>
<circle cx="652.1" cy="316.1" r="4.7" fill="#f88a10" stroke="#c66a0c" stroke-width="0.6"/>
<circle cx="633.8" cy="321.6" r="4.7" fill="#f88a10" stroke="#c66a0c" stroke-width="0.6"/>
<circle cx="642.9" cy="320.7" r="4.7" fill="#f88a10" stroke="#c66a0c" stroke-width="0.6"/>
<circle cx="652.1" cy="320.7" r="4.7" fill="#f88a10" stroke="#c66a0c" stroke-width="0.6"/>
<circle cx="633.8" cy="330.8" r="4.7" fill="#f88a10" stroke="#c66a0c" stroke-width="0.6"/>
<circle cx="642" cy="328" r="4.7" fill="#f88a10" stroke="#c66a0c" stroke-width="0.6"/>
<circle cx="650.3" cy="329" r="4.7" fill="#f88a10" stroke="#c66a0c" stroke-width="0.6"/>
<circle cx="636.5" cy="334.4" r="4.7" fill="#f88a10" stroke="#c66a0c" stroke-width="0.6"/>
<circle cx="645.7" cy="334.4" r="4.7" fill="#f88a10" stroke="#c66a0c" stroke-width="0.6"/>
<circle cx="653" cy="334.4" r="4.7" fill="#f88a10" stroke="#c66a0c" stroke-width="0.6"/>
<circle cx="635.6" cy="340.9" r="4.7" fill="#f88a10" stroke="#c66a0c" stroke-width="0.6"/>
<circle cx="653" cy="341.8" r="4.7" fill="#f88a10" stroke="#c66a0c" stroke-width="0.6"/>
<circle cx="634.7" cy="335.9" r="4.7" fill="#f88a10" stroke="#c66a0c" stroke-width="0.6"/>
<circle cx="643.9" cy="336.4" r="4.7" fill="#f88a10" stroke="#c66a0c" stroke-width="0.6"/>
<circle cx="652.1" cy="335.9" r="4.7" fill="#f88a10" stroke="#c66a0c" stroke-width="0.6"/>
<circle cx="636.1" cy="341.4" r="4.7" fill="#f88a10" stroke="#c66a0c" stroke-width="0.6"/>
<circle cx="653" cy="342.3" r="4.7" fill="#f88a10" stroke="#c66a0c" stroke-width="0.6"/>
<circle cx="635.1" cy="351.1" r="4.7" fill="#f88a10" stroke="#c66a0c" stroke-width="0.6"/>
<circle cx="639.7" cy="348.8" r="4.7" fill="#f88a10" stroke="#c66a0c" stroke-width="0.6"/>
<circle cx="647.5" cy="348.3" r="4.7" fill="#f88a10" stroke="#c66a0c" stroke-width="0.6"/>
<circle cx="637" cy="359.8" r="4.7" fill="#f88a10" stroke="#c66a0c" stroke-width="0.6"/>
<circle cx="653.5" cy="360.7" r="4.7" fill="#f88a10" stroke="#c66a0c" stroke-width="0.6"/>
<circle cx="640.6" cy="367.6" r="4.7" fill="#f88a10" stroke="#c66a0c" stroke-width="0.6"/>
<circle cx="645.7" cy="365.7" r="4.7" fill="#f88a10" stroke="#c66a0c" stroke-width="0.6"/>
<circle cx="649.8" cy="374.4" r="4.7" fill="#f88a10" stroke="#c66a0c" stroke-width="0.6"/>
<circle cx="650.3" cy="384.5" r="4.7" fill="#f88a10" stroke="#c66a0c" stroke-width="0.6"/>
<circle cx="650.3" cy="388.3" r="4.7" fill="#f88a10" stroke="#c66a0c" stroke-width="0.6"/>
<circle cx="642.9" cy="394.2" r="4.7" fill="#f88a10" stroke="#c66a0c" stroke-width="0.6"/>
<circle cx="633.8" cy="400.6" r="4.7" fill="#f88a10" stroke="#c66a0c" stroke-width="0.6"/>
<circle cx="635.6" cy="422.7" r="4.7" fill="#f88a10" stroke="#c66a0c" stroke-width="0.6"/>
<circle cx="633.8" cy="422.7" r="4.7" fill="#f88a10" stroke="#c66a0c" stroke-width="0.6"/>
<circle cx="634.9" cy="425" r="4.7" fill="#f88a10" stroke="#c66a0c" stroke-width="0.6"/>
<circle cx="640.5" cy="440.3" r="4.7" fill="#f88a10" stroke="#c66a0c" stroke-width="0.6"/>
<circle cx="634.3" cy="463" r="4.7" fill="#f88a10" stroke="#c66a0c" stroke-width="0.6"/>
<circle cx="637.9" cy="460.6" r="4.7" fill="#f88a10" stroke="#c66a0c" stroke-width="0.6"/>
<circle cx="647.4" cy="468.6" r="4.7" fill="#f88a10" stroke="#c66a0c" stroke-width="0.6"/>
<circle cx="645.7" cy="473.9" r="4.7" fill="#f88a10" stroke="#c66a0c" stroke-width="0.6"/>
<circle cx="637.9" cy="473.9" r="4.7" fill="#f88a10" stroke="#c66a0c" stroke-width="0.6"/>
<circle cx="635.5" cy="480.5" r="4.7" fill="#f88a10" stroke="#c66a0c" stroke-width="0.6"/>
<circle cx="640.3" cy="481.1" r="4.7" fill="#f88a10" stroke="#c66a0c" stroke-width="0.6"/>
<line x1="378.2" y1="359.8" x2="420.9" y2="359.8" stroke="#000" stroke-width="2.8"/>
<line x1="459.6" y1="368.5" x2="502.5" y2="368.5" stroke="#000" stroke-width="2.8"/>
<line x1="541.2" y1="334.2" x2="583.7" y2="334.2" stroke="#000" stroke-width="2.8"/>
<line x1="622.3" y1="325.3" x2="665" y2="325.3" stroke="#000" stroke-width="2.8"/>
</svg>
</body></html>
